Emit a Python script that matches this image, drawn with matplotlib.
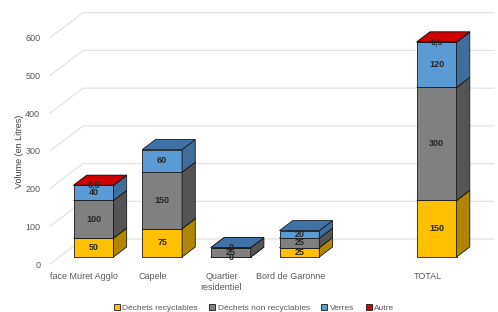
import math

import matplotlib
matplotlib.use("Agg")
import matplotlib.pyplot as plt
from matplotlib.patches import Polygon, Patch

plt.rcParams["font.family"] = ["Liberation Sans", "DejaVu Sans"]

categories = ["face Muret Agglo", "Capele", "Quartier\nresidentiel", "Bord de Garonne", "TOTAL"]
recyclables = [50, 75, 0, 25, 150]
non_recyclables = [100, 150, 25, 25, 300]
verres = [40, 60, 0, 20, 120]
autre = [0.5, math.nan, math.nan, math.nan, 0.5]
series_names = ["Déchets recyclables", "Déchets non recyclables", "Verres", "Autre"]
y_ticks = [0, 100, 200, 300, 400, 500, 600]

# layout: TOTAL sits one slot further right
x_pos = [0, 1, 2, 3, 5]
XMIN, XMAX = -0.5, 5.97
YMIN, YMAX = 0, 680
WALL_DX, WALL_DY = 0.481, 66.3       # floor depth (front -> back wall)
BAR_D0 = 0.28                        # bar front plane, fraction of depth
BAR_D1 = 0.68                        # bar back plane
BAR_W = 0.58

# front, side, top colours per series
colors = [
    ("#FFC000", "#B08600", "#FFD34D"),
    ("#808080", "#545454", "#9a9a9a"),
    ("#5B9BD5", "#3F6E9C", "#3F72A6"),
    ("#D00000", "#8B0000", "#D00000"),
]
EDGE = "#1a1a1a"
TXT = "#595959"
GRID = "#e0e0e0"

fig = plt.figure(figsize=(4.98, 3.12), dpi=100)
ax = fig.add_axes([50 / 498, 48 / 312, 444 / 498, 256.4 / 312])
ax.set_xlim(XMIN, XMAX)
ax.set_ylim(YMIN, YMAX)
for s in ax.spines.values():
    s.set_visible(False)

# gridlines: diagonal on the floor side, then along the back wall
for v in y_ticks:
    ax.plot([XMIN, XMIN + WALL_DX, XMAX], [v, v + WALL_DY, v + WALL_DY],
            color=GRID, lw=0.8, zorder=0, clip_on=False)

ax.set_yticks(y_ticks)
ax.set_yticklabels([str(v) for v in y_ticks], fontsize=6.5, color=TXT)
ax.tick_params(axis="y", length=0, pad=7)
ax.set_ylabel("Volume (en Litres)", fontsize=6.5, color="#404040")
ax.yaxis.set_label_coords(-0.058, 300 / YMAX)

ax.set_xticks(x_pos)
ax.set_xticklabels(categories, fontsize=6.5, color=TXT, linespacing=1.3)
ax.tick_params(axis="x", length=0, pad=6)

fx, fy = WALL_DX * BAR_D0, WALL_DY * BAR_D0
bdx, bdy = WALL_DX * (BAR_D1 - BAR_D0), WALL_DY * (BAR_D1 - BAR_D0)


def fmt(v):
    if v == int(v):
        return str(int(v))
    return str(v).replace(".", ",")


stacks = [recyclables, non_recyclables, verres, autre]
z = 2
for i, x in enumerate(x_pos):
    bottom = 0.0
    labels = []
    for k, vals in enumerate(stacks):
        v = vals[i]
        if math.isnan(v):
            continue
        front, side, top = colors[k]
        xl = x + fx - BAR_W / 2
        xr = x + fx + BAR_W / 2
        yb = bottom + fy
        yt = bottom + v + fy
        ax.add_patch(Polygon([(xl, yb), (xr, yb), (xr, yt), (xl, yt)],
                             closed=True, fc=front, ec=EDGE, lw=0.6, zorder=z))
        ax.add_patch(Polygon([(xr, yb), (xr + bdx, yb + bdy), (xr + bdx, yt + bdy), (xr, yt)],
                             closed=True, fc=side, ec=EDGE, lw=0.6, zorder=z))
        ax.add_patch(Polygon([(xl, yt), (xr, yt), (xr + bdx, yt + bdy), (xl + bdx, yt + bdy)],
                             closed=True, fc=top, ec=EDGE, lw=0.6, zorder=z))
        z += 1
        labels.append((x + fx, (yb + yt) / 2, fmt(v)))
        bottom += v
    for lx, ly, txt in labels:
        ax.text(lx, ly, txt, ha="center", va="center", fontsize=6.5,
                fontweight="bold", color="#262626", zorder=100)

handles = [Patch(facecolor=c[0], edgecolor=EDGE, lw=0.6) for c in colors]
fig.legend(handles, series_names, loc="lower center", bbox_to_anchor=(0.51, -0.025),
           ncol=4, frameon=False, fontsize=6, handlelength=0.7, handleheight=0.7,
           handletextpad=0.3, columnspacing=1.4, labelcolor=TXT)

fig.savefig("out.png", dpi=100)
